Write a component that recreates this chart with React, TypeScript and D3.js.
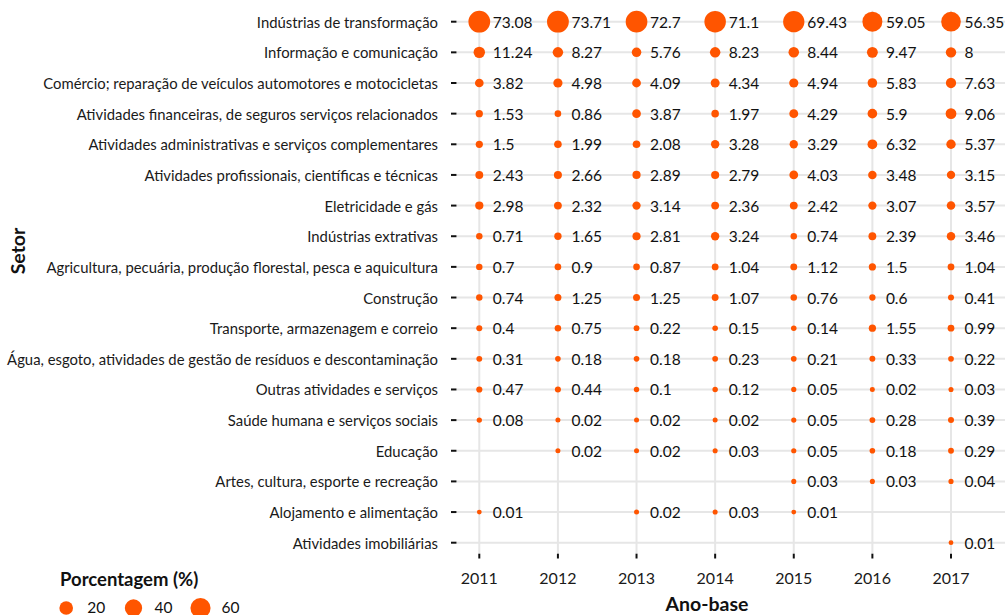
import React from "react";
import * as d3 from "d3";

const years = [2011, 2012, 2013, 2014, 2015, 2016, 2017];

const sectors = [
  "Indústrias de transformação",
  "Informação e comunicação",
  "Comércio; reparação de veículos automotores e motocicletas",
  "Atividades financeiras, de seguros serviços relacionados",
  "Atividades administrativas e serviços complementares",
  "Atividades profissionais, científicas e técnicas",
  "Eletricidade e gás",
  "Indústrias extrativas",
  "Agricultura, pecuária, produção florestal, pesca e aquicultura",
  "Construção",
  "Transporte, armazenagem e correio",
  "Água, esgoto, atividades de gestão de resíduos e descontaminação",
  "Outras atividades e serviços",
  "Saúde humana e serviços sociais",
  "Educação",
  "Artes, cultura, esporte e recreação",
  "Alojamento e alimentação",
  "Atividades imobiliárias",
];

const v2011 = [73.08, 11.24, 3.82, 1.53, 1.5, 2.43, 2.98, 0.71, 0.7, 0.74, 0.4, 0.31, 0.47, 0.08, null, null, 0.01, null];
const v2012 = [73.71, 8.27, 4.98, 0.86, 1.99, 2.66, 2.32, 1.65, 0.9, 1.25, 0.75, 0.18, 0.44, 0.02, 0.02, null, null, null];
const v2013 = [72.7, 5.76, 4.09, 3.87, 2.08, 2.89, 3.14, 2.81, 0.87, 1.25, 0.22, 0.18, 0.1, 0.02, 0.02, null, 0.02, null];
const v2014 = [71.1, 8.23, 4.34, 1.97, 3.28, 2.79, 2.36, 3.24, 1.04, 1.07, 0.15, 0.23, 0.12, 0.02, 0.03, null, 0.03, null];
const v2015 = [69.43, 8.44, 4.94, 4.29, 3.29, 4.03, 2.42, 0.74, 1.12, 0.76, 0.14, 0.21, 0.05, 0.05, 0.05, 0.03, 0.01, null];
const v2016 = [59.05, 9.47, 5.83, 5.9, 6.32, 3.48, 3.07, 2.39, 1.5, 0.6, 1.55, 0.33, 0.02, 0.28, 0.18, 0.03, null, null];
const v2017 = [56.35, 8, 7.63, 9.06, 5.37, 3.15, 3.57, 3.46, 1.04, 0.41, 0.99, 0.22, 0.03, 0.39, 0.29, 0.04, null, 0.01];

const valuesByYear = [v2011, v2012, v2013, v2014, v2015, v2016, v2017];
const legendValues = [20, 40, 60];

const FONT = "Lato, 'Open Sans', sans-serif";
const ORANGE = "#FF5500";
const GRID = "#E6E6E6";

type Pt = { year: number; sector: string; value: number };

export default function App() {
  const W = 1005;
  const H = 615;
  const panelLeft = 457;
  const panelTop = 10.7;
  const panelBottom = 553.7;

  const x = d3.scaleLinear().domain([2011, 2017]).range([479.3, 951]);
  const y = d3.scalePoint<string>().domain(sectors).range([21.7, 542.7]);

  const points: Pt[] = [];
  valuesByYear.forEach((arr, i) => {
    arr.forEach((v, j) => {
      if (v !== null && v !== undefined) points.push({ year: years[i], sector: sectors[j], value: v as number });
    });
  });
  const vmin = d3.min(points, (d) => d.value) as number;
  const vmax = d3.max(points, (d) => d.value) as number;
  const r = d3.scaleSqrt().domain([0, vmax - vmin]).range([2.4, 10.9]);
  const rad = (v: number) => r(Math.max(0, v - vmin));

  const legendX = [66.2, 133.5, 200.5];

  return (
    <svg width={W} height={H} style={{ position: "absolute", left: 0, top: 0, display: "block" }} fontFamily={FONT}>
      <rect x={0} y={0} width={W} height={H} fill="#fff" />
      {/* grid */}
      {sectors.map((s) => (
        <line key={"h" + s} x1={panelLeft} x2={W} y1={y(s)} y2={y(s)} stroke={GRID} strokeWidth={2} />
      ))}
      {years.map((yr) => (
        <line key={"v" + yr} x1={x(yr)} x2={x(yr)} y1={panelTop} y2={panelBottom} stroke={GRID} strokeWidth={2} />
      ))}
      {/* y axis ticks & labels */}
      {sectors.map((s) => (
        <g key={"yl" + s}>
          <line x1={451} x2={456.5} y1={y(s)} y2={y(s)} stroke="#111" strokeWidth={2} />
          <text x={438} y={y(s)} textAnchor="end" dominantBaseline="central" fontSize={14.85} fill="#1a1a1a">
            {s}
          </text>
        </g>
      ))}
      {/* x axis ticks & labels */}
      {years.map((yr) => (
        <g key={"xl" + yr}>
          <line x1={x(yr)} x2={x(yr)} y1={553.7} y2={558.5} stroke="#111" strokeWidth={2} />
          <text x={x(yr)} y={584} textAnchor="middle" fontSize={16} fill="#1a1a1a">
            {yr}
          </text>
        </g>
      ))}
      {/* bubbles */}
      {points.map((p, i) => (
        <circle key={"c" + i} cx={x(p.year)} cy={y(p.sector)} r={rad(p.value)} fill={ORANGE} />
      ))}
      {points.map((p, i) => (
        <text key={"t" + i} x={x(p.year) + 13.5} y={y(p.sector)} dominantBaseline="central" fontSize={15.5} fill="#111">
          {String(p.value)}
        </text>
      ))}
      {/* axis titles */}
      <text x={707} y={611} textAnchor="middle" fontSize={19.5} fontWeight="bold" fill="#111">
        Ano-base
      </text>
      <text transform={`translate(17,251) rotate(-90)`} textAnchor="middle" dominantBaseline="central" fontSize={19.5} fontWeight="bold" fill="#111">
        Setor
      </text>
      {/* legend */}
      <text x={60} y={586} fontSize={18.5} fontWeight="bold" fill="#111">
        Porcentagem (%)
      </text>
      {legendValues.map((v, i) => (
        <g key={"lg" + v}>
          <circle cx={legendX[i]} cy={608} r={rad(v)} fill={ORANGE} />
          <text x={legendX[i] + 21} y={607} dominantBaseline="central" fontSize={15.5} fill="#111">
            {v}
          </text>
        </g>
      ))}
    </svg>
  );
}
